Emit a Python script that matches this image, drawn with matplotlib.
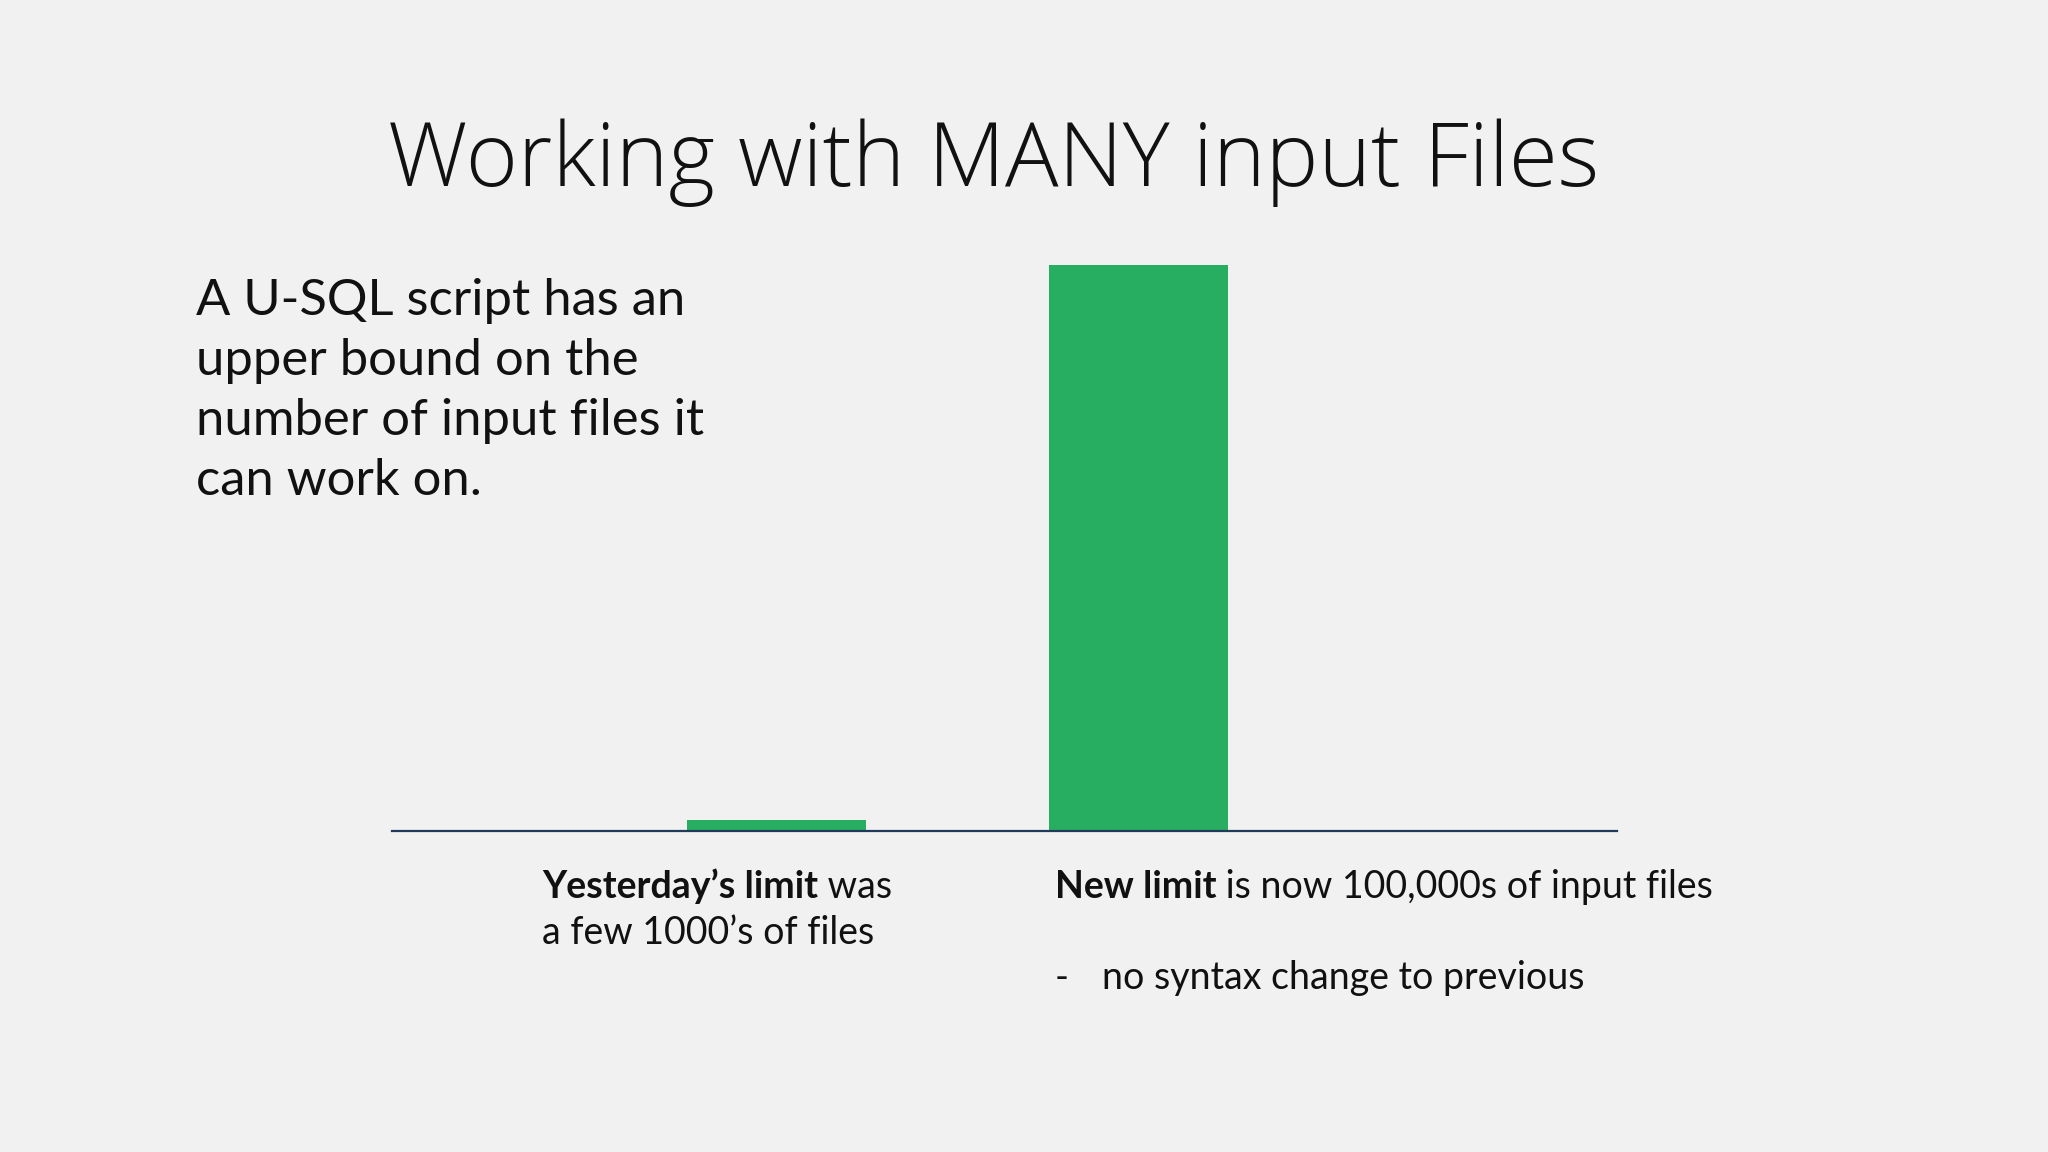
import matplotlib
matplotlib.use("Agg")
import matplotlib.pyplot as plt

# ---- data ----
categories = ["Yesterday's limit", "New limit"]
limits = [2000, 100000]
title = "Working with MANY input Files"
intro_lines = ["A U-SQL script has an", "upper bound on the",
               "number of input files it", "can work on."]
label1_bold = "Yesterday\u2019s limit"
label1_rest = " was"
label1_line2 = "a few 1000\u2019s of files"
label2_bold = "New limit"
label2_rest = " is now 100,000s of input files"
label2_bullet = "-"
label2_bullet_text = "no syntax change to previous"

BG = "#f2f1f1"
GREEN = "#27ae60"
AXIS = "#1f3a5a"
TXT = "#111111"
W, H = 2048, 1152
FONT = ["Lato", "DejaVu Sans"]
TFONT = ["Open Sans", "DejaVu Sans"]

fig = plt.figure(figsize=(W / 100, H / 100), dpi=100, facecolor=BG)

ax = fig.add_axes([392 / W, 1 - 831 / H, (1617 - 392) / W, (831 - 265) / H])
ax.set_facecolor(BG)
xpos = list(range(1, len(categories) + 1))
ax.bar(xpos, limits, width=0.495, color=GREEN, zorder=2)
ax.set_xlim(-0.063, 3.323)
ax.set_ylim(0, 100000)
for s in ["top", "left", "right"]:
    ax.spines[s].set_visible(False)
ax.spines["bottom"].set_color(AXIS)
ax.spines["bottom"].set_linewidth(1.6)
ax.spines["bottom"].set_zorder(3)
ax.set_xticks([])
ax.set_yticks([])

def fx(px):
    return px / W

def fy(py):
    return 1 - py / H

# title
fig.text(fx(994), fy(186), title, ha="center", va="baseline", fontsize=64.2,
         fontweight=300, family=TFONT, color=TXT)

# intro paragraph
for i, line in enumerate(intro_lines):
    fig.text(fx(196), fy(315 + i * 60), line, ha="left", va="baseline",
             fontsize=36.5, family=FONT, color=TXT)

fig.canvas.draw()
renderer = fig.canvas.get_renderer()

LS = 27

def mixed(x_px, base_px, bold, rest, size):
    t = fig.text(fx(x_px), fy(base_px), bold, ha="left", va="baseline",
                 fontsize=size, fontweight="bold", family=FONT, color=TXT)
    bb = t.get_window_extent(renderer)
    fig.text(bb.x1 / W, fy(base_px), rest, ha="left", va="baseline",
             fontsize=size, family=FONT, color=TXT)

mixed(542, 898, label1_bold, label1_rest, LS)
fig.text(fx(542), fy(944), label1_line2, ha="left", va="baseline",
         fontsize=LS, family=FONT, color=TXT)
mixed(1055, 898, label2_bold, label2_rest, LS)
fig.text(fx(1055), fy(989), label2_bullet, ha="left", va="baseline",
         fontsize=LS, family=FONT, color=TXT)
fig.text(fx(1102), fy(989), label2_bullet_text, ha="left", va="baseline",
         fontsize=LS, family=FONT, color=TXT)

fig.savefig("out.png", dpi=100, facecolor=BG)
